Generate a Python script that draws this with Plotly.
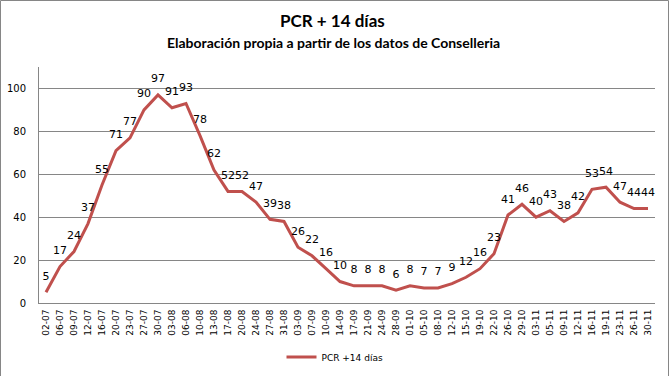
import plotly.graph_objects as go

dates = ["02-07","06-07","09-07","12-07","16-07","20-07","23-07","27-07","30-07",
         "03-08","06-08","10-08","13-08","17-08","20-08","24-08","27-08","31-08",
         "03-09","07-09","10-09","14-09","17-09","21-09","24-09","28-09",
         "01-10","05-10","08-10","12-10","15-10","19-10","22-10","26-10","29-10",
         "03-11","05-11","09-11","12-11","16-11","19-11","23-11","26-11","30-11"]
values = [5,17,24,37,55,71,77,90,97,91,93,78,62,52,52,47,39,38,26,22,16,10,8,8,8,
          6,8,7,7,9,12,16,23,41,46,40,43,38,42,53,54,47,44,44]
series_name = "PCR +14 días"
title_text = "PCR + 14 días"
subtitle_text = "Elaboración propia a partir de los datos de Conselleria"
y_ticks = [0, 20, 40, 60, 80, 100]

W, H = 670, 376
ML, MR, MT, MB = 39, 15, 67, 73
PW, PH = W - ML - MR, H - MT - MB


def py(ypx):
    return (PH + MT - ypx) / PH


def px(xpx):
    return (xpx - ML) / PW


fig = go.Figure()
fig.add_trace(go.Scatter(
    x=list(range(len(dates))), y=values, mode="lines+markers+text",
    name=series_name, text=[str(v) for v in values], textposition="top center",
    textfont=dict(family="DejaVu Sans", size=11, color="#000000"),
    line=dict(color="#C0504D", width=3),
    marker=dict(size=14, color="rgba(0,0,0,0)"),
    cliponaxis=False,
))

fig.update_layout(
    width=W, height=H,
    margin=dict(l=ML, r=MR, t=MT, b=MB),
    paper_bgcolor="white", plot_bgcolor="white",
    showlegend=True,
    legend=dict(orientation="h", x=0.5, xanchor="center", xref="container",
                y=19 / H, yanchor="middle", yref="container",
                font=dict(family="DejaVu Sans", size=9, color="#000000"),
                itemwidth=30),
    xaxis=dict(
        tickmode="array", tickvals=list(range(len(dates))), ticktext=dates,
        range=[-0.5, len(dates) - 0.5], tickangle=-90, automargin=False,
        tickfont=dict(family="DejaVu Sans", size=9, color="#000000"),
        showgrid=False, zeroline=False, showline=True, linecolor="#868686",
        ticks="", ticklabelstandoff=2,
    ),
    yaxis=dict(
        range=[0, 110], tickvals=y_ticks, automargin=False,
        tickfont=dict(family="DejaVu Sans", size=10, color="#000000"),
        showgrid=True, gridcolor="#868686", gridwidth=1, zeroline=False,
        showline=True, linecolor="#868686", ticks="", ticklabelstandoff=10,
    ),
    annotations=[
        dict(text="<b>" + title_text + "</b>", xref="paper", yref="paper",
             x=px(332), y=py(20), xanchor="center", yanchor="middle", showarrow=False,
             font=dict(family="Lato", size=17, color="#000000")),
        dict(text="<b>" + subtitle_text + "</b>", xref="paper", yref="paper",
             x=px(333), y=py(42), xanchor="center", yanchor="middle", showarrow=False,
             font=dict(family="Lato", size=14, color="#000000")),
    ],
    shapes=[dict(type="rect", xref="paper", yref="paper",
                 x0=px(0.5), x1=px(W - 1.5),
                 y0=py(H + 5), y1=py(0.5),
                 line=dict(color="#868686", width=1), fillcolor="rgba(0,0,0,0)")],
)

fig.write_html("out.html", config={"displayModeBar": False},
               post_script="document.body.style.margin='0';document.body.style.overflow='hidden';")
